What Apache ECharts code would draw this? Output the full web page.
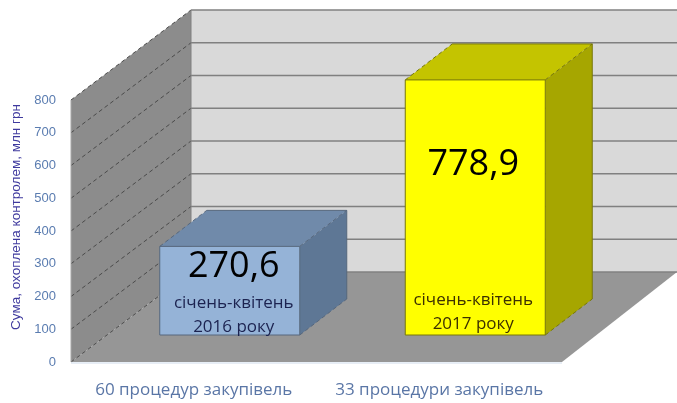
<!DOCTYPE html>
<html>
<head>
<meta charset="utf-8">
<title>Сума, охоплена контролем</title>
<style>
    html, body { margin: 0; padding: 0; background: #fff; }
    #chart { width: 677px; height: 403px; }
</style>
<script src="https://cdn.jsdelivr.net/npm/echarts@6/dist/echarts.min.js"></script>
</head>
<body>
<div id="chart"></div>
<script>
// Data
const categories = ['60 процедур закупівель', '33 процедури закупівель'];
const amounts = [270.6, 778.9];
const amountLabels = ['270,6', '778,9'];
const periods = ['січень-квітень\n2016 року', 'січень-квітень\n2017 року'];
const yTicks = [0, 100, 200, 300, 400, 500, 600, 700, 800];
const yAxisTitle = 'Сума, охоплена контролем, млн грн';

// Pseudo-3D look of the chart
const WALL_DX = 120;
const WALL_DY = -90;
const BAR_SHIFT = [36, -27];
const BAR_DX = 47;
const BAR_DY = -36;
const BAR_WIDTH = 140;
const FONT = '"Open Sans", Lato, sans-serif';

const barColors = [
    { front: '#95b3d7', top: '#708aaa', side: '#5e7795', edge: '#56677d', text: '#1c2350' },
    { front: '#ffff00', top: '#c4c400', side: '#a6a600', edge: '#77770a', text: '#3c3000' }
];
// where the texts sit inside each bar
const amountDrop = [20, 85];
const amountNudge = [4, -2];
const periodLift = [20, 23];

const poly = (points, fill) => ({
    type: 'polygon',
    shape: { points },
    style: { fill }
});

const edge = (from, to, color, dash, width) => ({
    type: 'line',
    shape: { x1: from[0], y1: from[1], x2: to[0], y2: to[1] },
    style: { stroke: color, lineWidth: width || 1, lineDash: dash || null }
});

function renderWalls(params, api) {
    const grid = params.coordSys;
    const left = grid.x;
    const right = grid.x + grid.width;
    const bottom = api.coord([0, 0])[1];
    const top = api.coord([0, yTicks[yTicks.length - 1]])[1];
    const backLeft = left + WALL_DX;
    const backRight = right + WALL_DX - 5;

    const children = [
        poly([[left, bottom], [backLeft, bottom + WALL_DY], [backLeft, top + WALL_DY], [left, top]], '#8c8c8c'),
        poly([[backLeft, bottom + WALL_DY], [backRight, bottom + WALL_DY], [backRight, top + WALL_DY], [backLeft, top + WALL_DY]], '#d9d9d9'),
        poly([[left, bottom], [right, bottom], [backRight, bottom + WALL_DY], [backLeft, bottom + WALL_DY]], '#969696')
    ];

    yTicks.forEach(tick => {
        const y = api.coord([0, tick])[1];
        children.push(edge([left, y], [backLeft, y + WALL_DY], '#4a4a4a', [4, 3]));
        children.push(edge([backLeft, y + WALL_DY], [backRight, y + WALL_DY], '#808080', null, 1.5));
    });
    children.push(edge([left, top], [left, bottom], '#a8a8a8'));
    children.push(edge([backLeft, top + WALL_DY], [backLeft, bottom + WALL_DY], '#808080'));
    children.push(edge([left, bottom + 1], [right, bottom + 1], '#cfdcec'));

    return { type: 'group', children };
}

function renderBar(params, api) {
    const i = params.dataIndex;
    const center = api.coord([i, 0])[0] + BAR_SHIFT[0];
    const base = api.coord([i, 0])[1] + BAR_SHIFT[1];
    const top = api.coord([i, api.value(1)])[1] + BAR_SHIFT[1];
    const x0 = center - BAR_WIDTH / 2;
    const x1 = center + BAR_WIDTH / 2;
    const c = barColors[i];

    return {
        type: 'group',
        children: [
            poly([[x0, top], [x1, top], [x1 + BAR_DX, top + BAR_DY], [x0 + BAR_DX, top + BAR_DY]], c.top),
            poly([[x1, top], [x1 + BAR_DX, top + BAR_DY], [x1 + BAR_DX, base + BAR_DY], [x1, base]], c.side),
            poly([[x0, top], [x1, top], [x1, base], [x0, base]], c.front),
            edge([x0, top], [x1, top], c.edge),
            edge([x0, base], [x1, base], c.edge),
            edge([x0, top], [x0, base], c.edge),
            edge([x1, top], [x1, base], c.edge),
            edge([x0, top], [x0 + BAR_DX, top + BAR_DY], c.edge, [4, 3]),
            edge([x1, top], [x1 + BAR_DX, top + BAR_DY], c.edge, [4, 3]),
            edge([x1, base], [x1 + BAR_DX, base + BAR_DY], c.edge, [4, 3]),
            edge([x0 + BAR_DX, top + BAR_DY], [x1 + BAR_DX, top + BAR_DY], c.edge),
            edge([x1 + BAR_DX, top + BAR_DY], [x1 + BAR_DX, base + BAR_DY], c.edge),
            {
                type: 'text',
                style: {
                    x: center + amountNudge[i],
                    y: top + amountDrop[i],
                    text: amountLabels[i],
                    fill: '#000',
                    font: '36px ' + FONT,
                    align: 'center',
                    verticalAlign: 'middle'
                }
            },
            {
                type: 'text',
                style: {
                    x: center + amountNudge[i],
                    y: base - periodLift[i],
                    text: periods[i],
                    fill: c.text,
                    font: '17px ' + FONT,
                    lineHeight: 24,
                    align: 'center',
                    verticalAlign: 'middle'
                }
            }
        ]
    };
}

const chart = echarts.init(document.getElementById('chart'), null, { renderer: 'canvas' });

chart.setOption({
    animation: false,
    backgroundColor: '#fff',
    grid: { left: 71, top: 100, width: 491, height: 262, outerBoundsMode: 'none' },
    xAxis: {
        type: 'category',
        data: categories,
        axisLine: { show: false },
        axisTick: { show: false },
        axisLabel: {
            interval: 0,
            margin: 20,
            color: '#5a76a6',
            fontFamily: FONT,
            fontSize: 17
        }
    },
    yAxis: {
        type: 'value',
        min: 0,
        max: 800,
        interval: 100,
        name: yAxisTitle,
        nameLocation: 'middle',
        nameRotate: 90,
        nameGap: 48,
        nameTextStyle: {
            color: '#3f3a9e',
            fontFamily: '"Liberation Sans", sans-serif',
            fontSize: 13.5,
            padding: [0, 0, 0, 28]
        },
        axisLine: { show: false },
        axisTick: { show: false },
        splitLine: { show: false },
        axisLabel: {
            margin: 15,
            padding: [3, 0, 0, 0],
            color: '#5a7cb0',
            fontFamily: '"Liberation Sans", sans-serif',
            fontSize: 13
        }
    },
    series: [
        {
            type: 'custom',
            name: 'walls',
            silent: true,
            clip: false,
            z: 1,
            renderItem: renderWalls,
            data: [[0, 0]]
        },
        {
            type: 'custom',
            name: 'amounts',
            clip: false,
            z: 2,
            renderItem: renderBar,
            encode: { x: 0, y: 1 },
            data: amounts.map((v, i) => [i, v])
        }
    ]
});
</script>
</body>
</html>
